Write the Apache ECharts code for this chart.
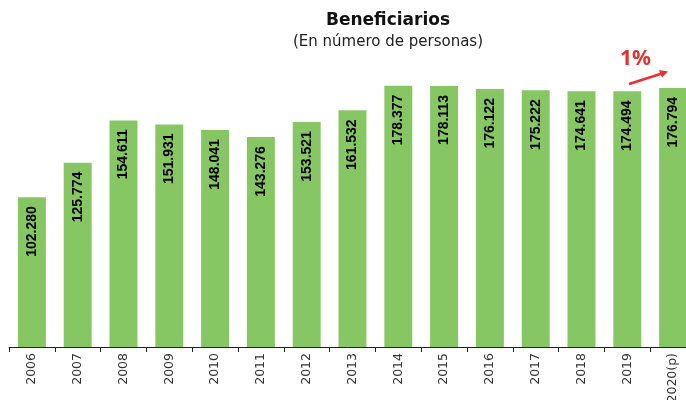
<!DOCTYPE html>
<html><head><meta charset="utf-8">
<script src="https://cdn.jsdelivr.net/npm/echarts@6/dist/echarts.min.js"></script>
<style>html,body{margin:0;padding:0;background:#fff}#c{width:686px;height:400px}</style>
</head><body><div id="c"></div>
<script>
const categories = ['2006','2007','2008','2009','2010','2011','2012','2013','2014','2015','2016','2017','2018','2019','2020(p)'];
const beneficiarios = [102280,125774,154611,151931,148041,143276,153521,161532,178377,178113,176122,175222,174641,174494,176794];
const titleText = 'Beneficiarios';
const subtitleText = '(En número de personas)';
const changeText = '1%';

const fmt = v => String(v).replace(/\B(?=(\d{3})+(?!\d))/g, '.');
const chart = echarts.init(document.getElementById('c'));
chart.setOption({
  animation: false,
  title: {
    text: titleText, subtext: subtitleText, left: 383, top: 7, textAlign: 'center', itemGap: 6,
    textStyle: {fontFamily: 'DejaVu Sans', fontWeight: 'bold', fontSize: 17, color: '#111'},
    subtextStyle: {fontFamily: 'DejaVu Sans', fontSize: 15, color: '#222'}
  },
  grid: {left: 9, right: -10, top: 54, bottom: 53, containLabel: false, outerBoundsMode: 'none'},
  xAxis: {
    type: 'category', data: categories,
    axisLine: {lineStyle: {color: '#222', width: 1}},
    axisTick: {show: true, length: 5, lineStyle: {color: '#222'}},
    axisLabel: {rotate: 90, fontFamily: 'DejaVu Sans', fontSize: 12.5, color: '#333', margin: 6}
  },
  yAxis: {type: 'value', min: 0, max: 200000, show: false, splitLine: {show: false}},
  series: [{
    type: 'bar', data: beneficiarios, barCategoryGap: '39%',
    itemStyle: {color: '#86c764'},
    label: {
      show: true, position: 'insideTop', rotate: 90, align: 'right', verticalAlign: 'middle', distance: 9,
      formatter: p => fmt(p.value),
      fontFamily: 'Liberation Sans', fontWeight: 'bold', fontSize: 14, color: '#000'
    }
  }],
  graphic: [
    {type: 'text', left: 620, top: 49, style: {text: changeText, fontFamily: 'Noto Sans', fontWeight: 'bold', fontSize: 21, fill: '#e8302e'}},
    {type: 'line', shape: {x1: 629, y1: 84, x2: 662, y2: 73.5}, style: {stroke: '#e8302e', lineWidth: 2.5}},
    {type: 'polygon', shape: {points: [[668, 71.5], [659, 70], [662, 77.5]]}, style: {fill: '#e8302e'}}
  ]
});
</script></body></html>
